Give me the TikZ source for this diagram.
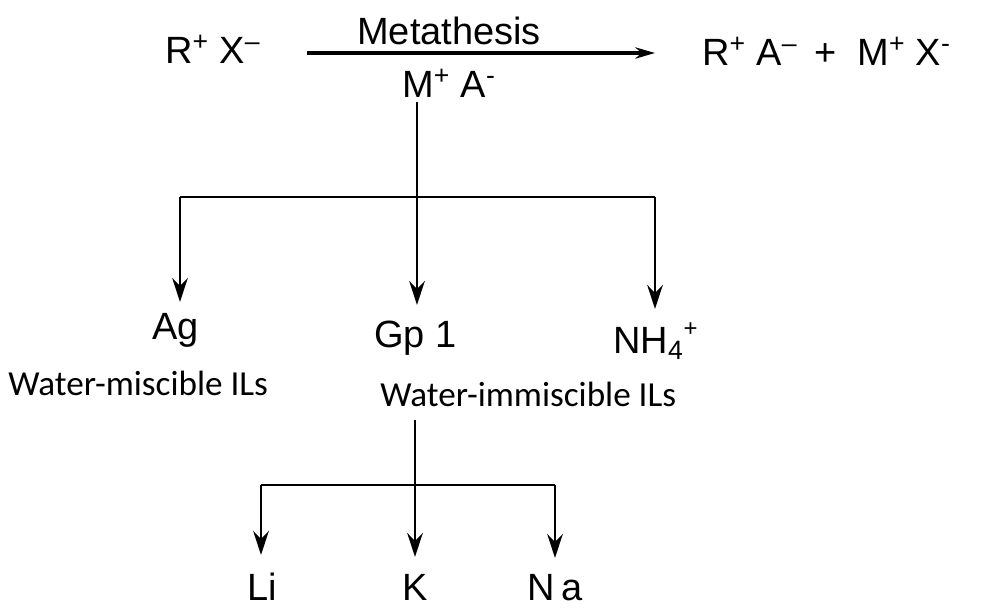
\documentclass[tikz,border=0pt]{standalone}
\usepackage{fontspec}
\setmainfont{Liberation Sans}
\newfontfamily\ilsfont{Carlito}
\usetikzlibrary{arrows.meta}

\begin{document}
\begin{tikzpicture}[x=0.025cm, y=-0.025cm]
    % 定义样式
    \tikzstyle{chem}=[inner sep=0pt, font=\fontsize{27}{32}\selectfont]
    \tikzstyle{ils}=[inner sep=0pt, font=\ilsfont\fontsize{25}{30}\selectfont]
    \tikzstyle{branch}=[line width=2.1pt, line join=round]
    \tikzstyle{down}=[line width=2.1pt, -{Stealth[length=17pt, width=11pt]}]
    \tikzstyle{react}=[line width=2.3pt, -{Stealth[length=14pt, width=8pt]}]

    \useasboundingbox (0,0) rectangle (984,607);

    % 反应式
    \node[chem, anchor=base west] (RX) at (165,63) {R\textsuperscript{+} X\textsuperscript{--}};
    \node[chem, anchor=base west] (Meta) at (357,44) {Metathesis};
    \node[chem, anchor=base west] (MA) at (402,97) {M\textsuperscript{+} A\textsuperscript{-}};
    \node[chem, anchor=base west] (Prod) at (702,65) {R\textsuperscript{+} A\textsuperscript{--} \,+ \ M\textsuperscript{+} X\textsuperscript{-}};
    \coordinate (r1) at (307,53);
    \coordinate (r2) at (655,53);
    \draw[react] (r1) -- (r2);

    % 第一层分支 (M+ 的种类)
    \coordinate (top) at (417,102);
    \coordinate (hub) at (417,197);
    \coordinate (hubL) at (180,197);
    \coordinate (hubR) at (655,197);
    \coordinate (tipAg) at (180,302);
    \coordinate (tipGp) at (417,305);
    \coordinate (tipNH) at (655,309);
    \draw[branch] (top) -- (hub);
    \draw[branch] (hubL) -- (hubR);
    \draw[down] (hubL) -- (tipAg);
    \draw[down] (hub) -- (tipGp);
    \draw[down] (hubR) -- (tipNH);

    \node[chem, anchor=base west] (Ag) at (152,339) {Ag};
    \node[chem, anchor=base west] (Gp) at (374,347) {Gp 1};
    \node[chem, anchor=base west] (NH) at (613,353) {NH\textsubscript{4}\raisebox{12pt}{\fontsize{17}{17}\selectfont +}};

    % 离子液体的水溶性
    \node[ils, anchor=base west] (misc) at (8,395) {Water-miscible ILs};
    \node[ils, anchor=base west] (immisc) at (380,406) {Water-immiscible ILs};

    % 第二层分支 (Gp 1 的元素)
    \coordinate (top2) at (415,420);
    \coordinate (hub2) at (415,485);
    \coordinate (hub2L) at (261,485);
    \coordinate (hub2R) at (555,485);
    \coordinate (tipLi) at (261,555);
    \coordinate (tipK) at (415,557);
    \coordinate (tipNa) at (555,558);
    \draw[branch] (top2) -- (hub2);
    \draw[branch] (hub2L) -- (hub2R);
    \draw[down] (hub2L) -- (tipLi);
    \draw[down] (hub2) -- (tipK);
    \draw[down] (hub2R) -- (tipNa);

    \node[chem, anchor=base] (Li) at (262,600) {Li};
    \node[chem, anchor=base] (K) at (415,600) {K};
    \node[chem, anchor=base] (Na) at (555,600) {N\,a};
\end{tikzpicture}
\end{document}
